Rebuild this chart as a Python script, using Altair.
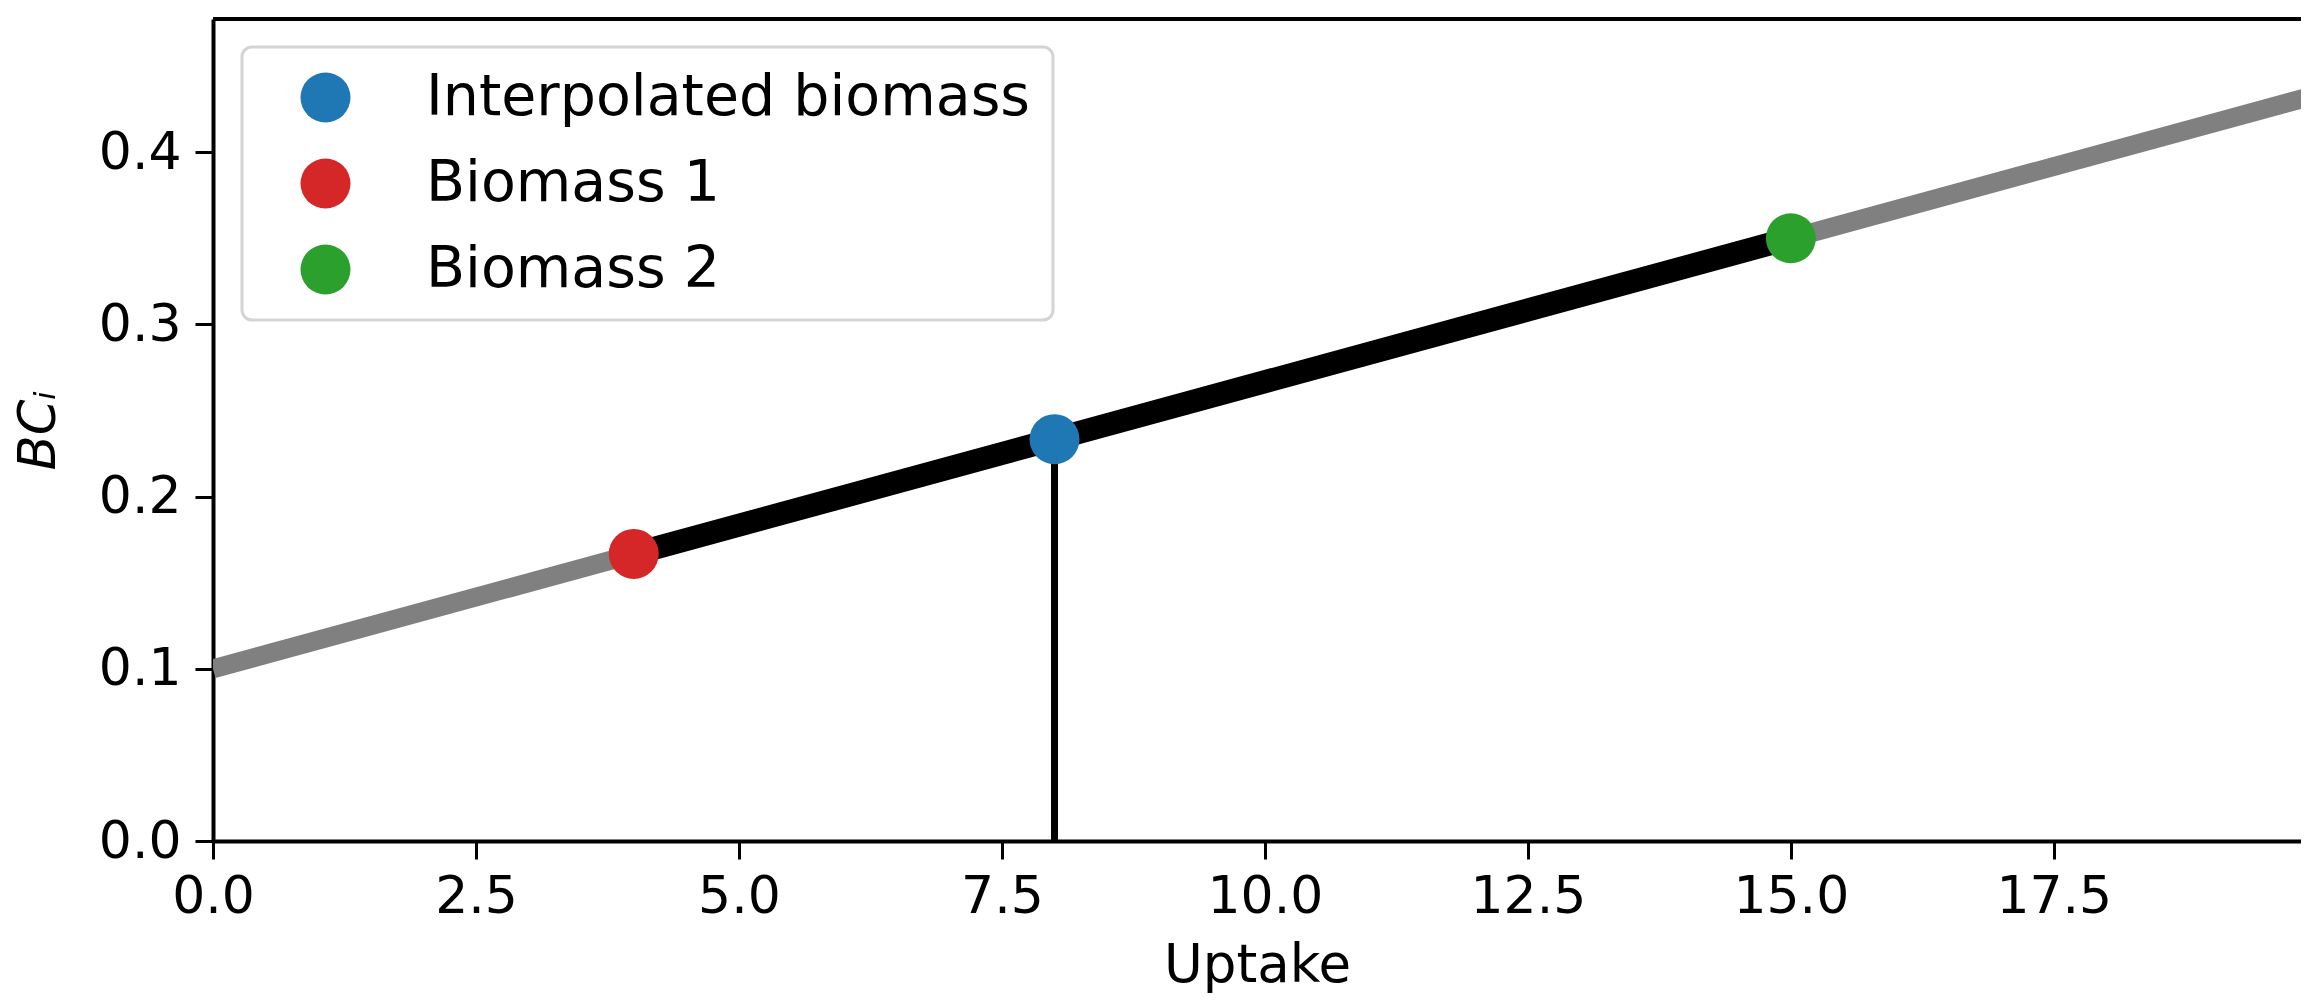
import altair as alt
import pandas as pd

# ---- data ----
line_uptake = [0.0, 20.0]
line_bc = [0.1, 0.4333]

segment_uptake = [4.0, 15.0]
segment_bc = [0.1667, 0.35]

drop_uptake = [8.0]
drop_bc_low = [0.0]
drop_bc_high = [0.2333]

point_labels = ["Interpolated biomass", "Biomass 1", "Biomass 2"]
point_uptake = [8.0, 4.0, 15.0]
point_bc = [0.2333, 0.1667, 0.35]
point_colors = ["#1f77b4", "#d62728", "#2ca02c"]

x_ticks = [0.0, 2.5, 5.0, 7.5, 10.0, 12.5, 15.0, 17.5]
y_ticks = [0.0, 0.1, 0.2, 0.3, 0.4]
x_domain = [0.0, 19.85]
y_domain = [0.0, 0.4773]

FONT = "DejaVu Sans"

line_df = pd.DataFrame({"u": line_uptake, "bc": line_bc})
seg_df = pd.DataFrame({"u": segment_uptake, "bc": segment_bc})
drop_df = pd.DataFrame({"u": drop_uptake, "lo": drop_bc_low, "hi": drop_bc_high})
pts_df = pd.DataFrame({"label": point_labels, "u": point_uptake, "bc": point_bc})

x_scale = alt.Scale(domain=x_domain, nice=False, zero=False)
y_scale = alt.Scale(domain=y_domain, nice=False, zero=False)

x_axis = alt.Axis(
    values=x_ticks, format=".1f", title="Uptake", grid=False,
    domainColor="black", domainWidth=4, tickColor="black", tickWidth=3,
    tickSize=18, labelPadding=12, labelFontSize=52, labelFont=FONT,
    labelColor="black", labelFlush=False, labelOverlap=False,
    titleFontSize=53, titleFont=FONT, titleFontWeight="normal",
    titleColor="black", titlePadding=17,
)
y_axis = alt.Axis(
    values=y_ticks, format=".1f", title="BCᵢ", grid=False,
    domainColor="black", domainWidth=4, tickColor="black", tickWidth=3,
    tickSize=18, labelPadding=14, labelFontSize=52, labelFont=FONT,
    labelColor="black", labelFlush=False, labelOverlap=False,
    titleFontSize=51, titleFont=FONT, titleFontWeight="normal",
    titleFontStyle="italic", titleColor="black", titlePadding=33,
)

gray = alt.Chart(line_df).mark_line(color="#808080", strokeWidth=19, clip=True, strokeCap="butt").encode(
    x=alt.X("u:Q", scale=x_scale, axis=x_axis),
    y=alt.Y("bc:Q", scale=y_scale, axis=y_axis),
)

black = alt.Chart(seg_df).mark_line(color="black", strokeWidth=23, clip=True, strokeCap="butt").encode(
    x=alt.X("u:Q", scale=x_scale),
    y=alt.Y("bc:Q", scale=y_scale),
)

drop = alt.Chart(drop_df).mark_rule(color="black", strokeWidth=7).encode(
    x=alt.X("u:Q", scale=x_scale),
    y=alt.Y("lo:Q", scale=y_scale),
    y2="hi:Q",
)

top_spine = alt.Chart(line_df).mark_rule(color="black", strokeWidth=4).encode(
    y=alt.value(0),
)

pts = alt.Chart(pts_df).mark_circle(size=2500, opacity=1).encode(
    x=alt.X("u:Q", scale=x_scale),
    y=alt.Y("bc:Q", scale=y_scale),
    color=alt.Color(
        "label:N",
        scale=alt.Scale(domain=point_labels, range=point_colors),
        sort=point_labels,
        legend=alt.Legend(
            title=None, orient="none", legendX=29, legendY=28,
            padding=22, symbolOffset=33, labelOffset=72,
            symbolSize=2500, symbolType="circle", symbolStrokeWidth=0,
            symbolOpacity=1, labelFontSize=57, labelFont=FONT,
            labelColor="black", labelLimit=2000, rowPadding=28,
            strokeColor="#d4d4d4", cornerRadius=10,
            fillColor="white",
        ),
    ),
)

chart = alt.layer(gray, black, drop, top_spine, pts).properties(
    width=2088, height=822,
    autosize=alt.AutoSizeParams(type="none"),
    padding={"left": 205, "top": 11, "right": 0, "bottom": 157},
    background="white",
).configure_view(stroke=None).configure_legend(strokeWidth=3)

chart.save("out.html", embed_options={"renderer": "svg", "actions": False})
